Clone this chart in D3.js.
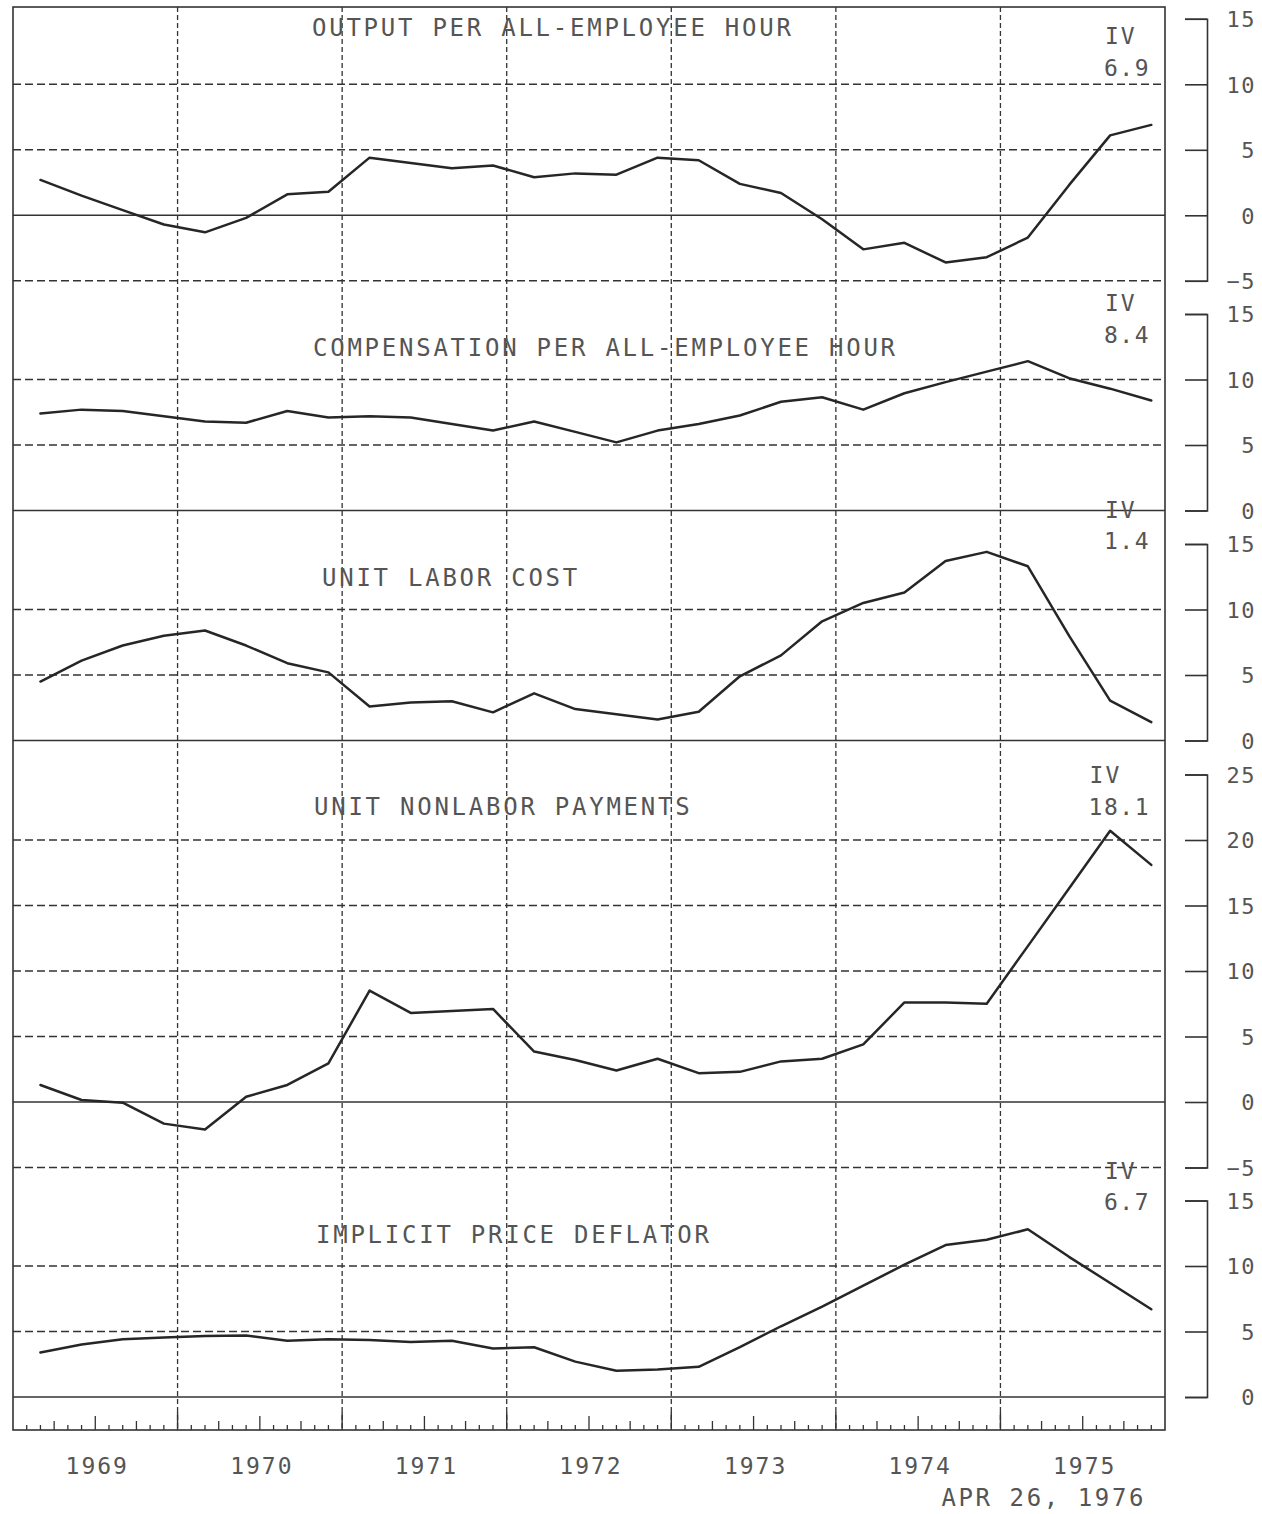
<!DOCTYPE html>
<html>
<head>
<meta charset="utf-8">
<script src="https://cdn.jsdelivr.net/npm/d3@7"></script>
<style>
  html, body { margin: 0; padding: 0; background: #fff; }
  svg { display: block; }
  text { font-family: "DejaVu Sans Mono", "Liberation Mono", monospace; fill: #555; }
</style>
</head>
<body>
<svg id="chart" width="1262" height="1514"></svg>
<script>
// ---------------- DATA ----------------
const years = [1969, 1970, 1971, 1972, 1973, 1974, 1975];
const quarterNames = ["I", "II", "III", "IV"];
const yearLabels = ["1969", "1970", "1971", "1972", "1973", "1974", "1975"];
const dateLabel = "APR 26, 1976";

const titles = [
  "OUTPUT PER ALL-EMPLOYEE HOUR",
  "COMPENSATION PER ALL-EMPLOYEE HOUR",
  "UNIT LABOR COST",
  "UNIT NONLABOR PAYMENTS",
  "IMPLICIT PRICE DEFLATOR"
];

const outputPerHour = [2.7, 1.5, 0.4, -0.7, -1.3, -0.2, 1.6, 1.8, 4.4, 4.0, 3.6, 3.8, 2.9, 3.2,
  3.1, 4.4, 4.2, 2.4, 1.7, -0.3, -2.6, -2.1, -3.6, -3.2, -1.7, 2.3, 6.1, 6.9];
const compensationPerHour = [7.4, 7.7, 7.6, 7.2, 6.8, 6.7, 7.6, 7.1, 7.2, 7.1, 6.6, 6.1, 6.8, 6.0,
  5.2, 6.1, 6.6, 7.25, 8.3, 8.65, 7.7, 8.95, 9.8, 10.6, 11.4, 10.1, 9.3, 8.4];
const unitLaborCost = [4.5, 6.1, 7.25, 8.0, 8.4, 7.25, 5.9, 5.2, 2.6, 2.9, 3.0, 2.15, 3.6, 2.4,
  2.0, 1.6, 2.2, 4.9, 6.5, 9.1, 10.5, 11.3, 13.7, 14.4, 13.3, 8.0, 3.05, 1.4];
const unitNonlaborPayments = [1.3, 0.15, -0.05, -1.65, -2.1, 0.4, 1.3, 2.95, 8.5, 6.8, 6.95, 7.1, 3.85, 3.2,
  2.4, 3.3, 2.2, 2.3, 3.1, 3.3, 4.4, 7.6, 7.6, 7.5, 11.9, 16.3, 20.7, 18.1];
const implicitPriceDeflator = [3.4, 4.0, 4.4, 4.55, 4.65, 4.7, 4.3, 4.4, 4.35, 4.2, 4.3, 3.7, 3.8, 2.7,
  2.0, 2.1, 2.3, 3.8, 5.4, 6.9, 8.5, 10.1, 11.6, 12.0, 12.8, 10.7, 8.7, 6.7];

const series = [outputPerHour, compensationPerHour, unitLaborCost, unitNonlaborPayments, implicitPriceDeflator];

const ticks1 = [-5, 0, 5, 10, 15];
const ticks2 = [0, 5, 10, 15];
const ticks3 = [0, 5, 10, 15];
const ticks4 = [-5, 0, 5, 10, 15, 20, 25];
const ticks5 = [0, 5, 10, 15];
const tickSets = [ticks1, ticks2, ticks3, ticks4, ticks5];

const lastLabels = ["6.9", "8.4", "1.4", "18.1", "6.7"];

// ---------------- LAYOUT ----------------
const L = 13, R = 1165, TOP = 7, BOTTOM = 1430;
const layout = [
  { y0: 215.3, unit: 13.1, titleX: 312, titleY: 27, ivY: 36, valY: 68 },
  { y0: 510.5, unit: 13.1, titleX: 313, titleY: 347, ivY: 303, valY: 335 },
  { y0: 740.5, unit: 13.1, titleX: 322, titleY: 577, ivY: 510, valY: 541 },
  { y0: 1102,  unit: 13.1, titleX: 314, titleY: 806, ivY: 775, valY: 807 },
  { y0: 1397,  unit: 13.1, titleX: 316, titleY: 1234, ivY: 1171, valY: 1202 }
];

const svg = d3.select("#chart");
svg.append("rect").attr("width", 1262).attr("height", 1514).attr("fill", "#fff");

const x = d3.scaleLinear().domain([1969, 1976]).range([L, R]);
const dates = years.flatMap(yr => quarterNames.map((q, i) => yr + (3 * (i + 1) - 1) / 12));

const gridColor = "#333";

// vertical dashed gridlines at year boundaries
const boundaries = years.slice(1);
svg.append("g").selectAll("line").data(boundaries).join("line")
  .attr("x1", d => x(d)).attr("x2", d => x(d))
  .attr("y1", TOP).attr("y2", BOTTOM)
  .attr("stroke", gridColor).attr("stroke-width", 1.3)
  .attr("stroke-dasharray", "5,3");

// panels
layout.forEach((p, i) => {
  const ticks = tickSets[i];
  const lo = d3.min(ticks), hi = d3.max(ticks);
  const y = d3.scaleLinear().domain([lo, hi])
    .range([p.y0 - lo * p.unit, p.y0 - hi * p.unit]);
  const g = svg.append("g");

  // horizontal gridlines (dashed), zero solid; top tick has no gridline
  g.selectAll("line.grid").data(ticks.filter(t => t !== 0 && t !== hi)).join("line")
    .attr("class", "grid")
    .attr("x1", L).attr("x2", R)
    .attr("y1", d => y(d)).attr("y2", d => y(d))
    .attr("stroke", gridColor).attr("stroke-width", 1.4)
    .attr("stroke-dasharray", "8,4");
  g.append("line")
    .attr("x1", L).attr("x2", R).attr("y1", y(0)).attr("y2", y(0))
    .attr("stroke", "#333").attr("stroke-width", 1.6);

  // right axis bracket
  const axis = d3.axisRight(y).tickValues(ticks).tickSize(-22).tickSizeOuter(-22).tickPadding(8);
  const ag = svg.append("g").attr("transform", `translate(1207,0)`).call(axis);
  ag.select(".domain").attr("stroke", "#333").attr("stroke-width", 1.6).attr("fill", "none");
  ag.selectAll(".tick line").attr("stroke", "#333").attr("stroke-width", 1.6);
  ag.selectAll(".tick text")
    .attr("x", 49).attr("text-anchor", "end").attr("dy", "0.36em")
    .style("font-size", "22px").style("letter-spacing", "1.5px").attr("fill", "#555");

  // series line
  const line = d3.line().x((d, j) => x(dates[j])).y(d => y(d));
  svg.append("path").datum(series[i])
    .attr("d", line).attr("fill", "none")
    .attr("stroke", "#262626").attr("stroke-width", 2.5)
    .attr("stroke-linejoin", "round").attr("stroke-linecap", "round");

  // title
  svg.append("text").attr("x", p.titleX).attr("y", p.titleY).attr("dy", "0.36em")
    .style("font-size", "24px").style("letter-spacing", "2.75px")
    .text(titles[i]);

  // last value annotation
  const vt = svg.append("text").attr("x", 1150).attr("y", p.valY).attr("dy", "0.36em")
    .attr("text-anchor", "end")
    .style("font-size", "23px").style("letter-spacing", "1.5px")
    .text(lastLabels[i]);
  const bb = vt.node().getBBox();
  svg.append("text").attr("x", bb.x + 1).attr("y", p.ivY).attr("dy", "0.36em")
    .style("font-size", "23px").style("letter-spacing", "2px")
    .text(quarterNames[3]);
});

// frame
svg.append("rect").attr("x", L).attr("y", TOP).attr("width", R - L).attr("height", BOTTOM - TOP)
  .attr("fill", "none").attr("stroke", "#333").attr("stroke-width", 1.6);

// bottom monthly ticks
const monthTicks = [];
years.forEach(yr => { for (let m = 1; m < 12; m++) monthTicks.push({ v: yr + m / 12, m }); });
svg.append("g").selectAll("line").data(monthTicks).join("line")
  .attr("x1", d => x(d.v)).attr("x2", d => x(d.v))
  .attr("y1", BOTTOM)
  .attr("y2", d => BOTTOM - (d.m === 6 ? 14 : (d.m % 3 === 0 ? 9 : 5)))
  .attr("stroke", "#333").attr("stroke-width", 1.3);
svg.append("g").selectAll("line").data(boundaries).join("line")
  .attr("x1", d => x(d)).attr("x2", d => x(d))
  .attr("y1", BOTTOM).attr("y2", BOTTOM - 18)
  .attr("stroke", "#333").attr("stroke-width", 1.4);

// year labels
svg.append("g").selectAll("text").data(years).join("text")
  .attr("x", d => x(d + 0.5) + 2).attr("y", 1466).attr("dy", "0.36em")
  .attr("text-anchor", "middle")
  .style("font-size", "23px").style("letter-spacing", "2px")
  .text((d, i) => yearLabels[i]);

// date
svg.append("text").attr("x", 1146).attr("y", 1497).attr("dy", "0.36em")
  .attr("text-anchor", "end")
  .style("font-size", "24px").style("letter-spacing", "2.6px")
  .text(dateLabel);
</script>
</body>
</html>
